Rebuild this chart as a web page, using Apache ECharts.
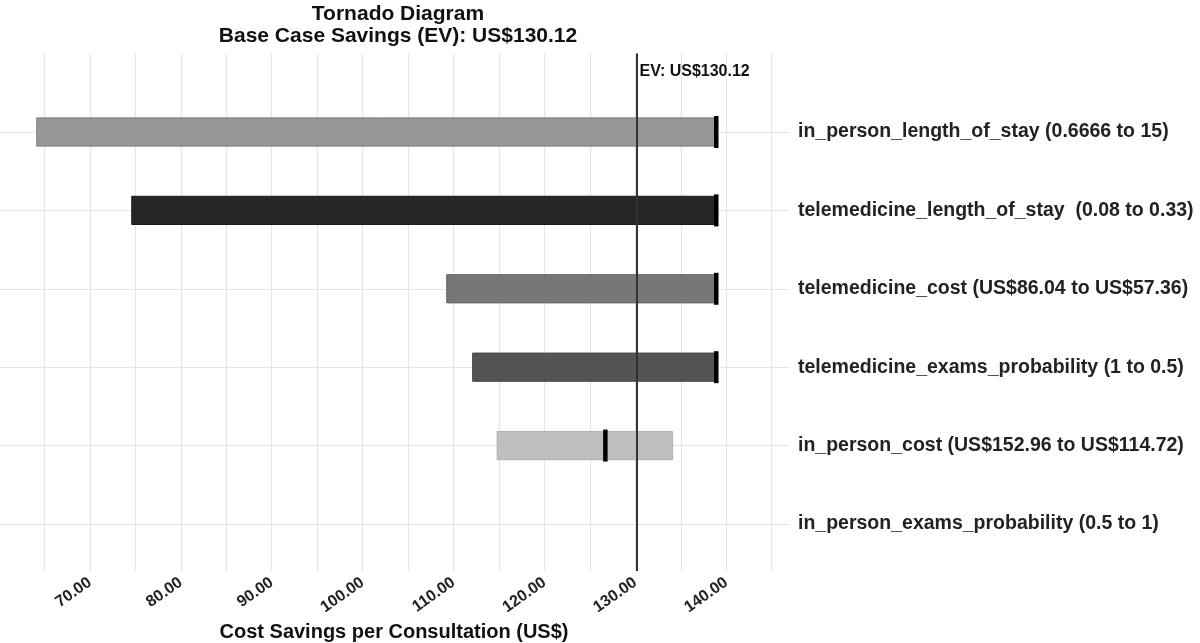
<!DOCTYPE html>
<html>
<head>
<meta charset="utf-8">
<title>Tornado Diagram</title>
<script src="https://cdn.jsdelivr.net/npm/echarts@6/dist/echarts.min.js"></script>
<style>
  html, body { margin: 0; padding: 0; background: #fff; }
  #chart { width: 1200px; height: 643px; }
</style>
</head>
<body>
<div id="chart"></div>
<script>
// rows from top to bottom
const categories = [
  'in_person_length_of_stay (0.6666 to 15)',
  'telemedicine_length_of_stay  (0.08 to 0.33)',
  'telemedicine_cost (US$86.04 to US$57.36)',
  'telemedicine_exams_probability (1 to 0.5)',
  'in_person_cost (US$152.96 to US$114.72)',
  'in_person_exams_probability (0.5 to 1)'
];
const lowValues = [64.15, 74.6, 109.25, 112.1, 114.8, null];
const highValues = [138.9, 138.9, 138.9, 138.9, 134.1, null];
const markValues = [138.9, 138.9, 138.9, 138.9, 126.7, null];
const evValue = 130.12;
const xTickValues = [70, 80, 90, 100, 110, 120, 130, 140];

const barColors = ['#969696', '#262626', '#777777', '#545454', '#bebebe', '#bebebe'];
const barBorders = ['#7d7d7d', '#1a1a1a', '#666666', '#474747', '#b0b0b0', '#b0b0b0'];
const FONT = '"Liberation Sans", Arial, Helvetica, sans-serif';

const barData = [];
const markData = [];
categories.forEach((c, i) => {
  if (lowValues[i] != null) barData.push([lowValues[i], highValues[i], i]);
  if (markValues[i] != null) markData.push([markValues[i], i]);
});

const chart = echarts.init(document.getElementById('chart'));
chart.setOption({
  backgroundColor: '#ffffff',
  animation: false,
  textStyle: { fontFamily: FONT },
  title: {
    text: 'Tornado Diagram\nBase Case Savings (EV): US$' + evValue.toFixed(2),
    left: 393,
    top: -2,
    textAlign: 'center',
    textStyle: { fontFamily: FONT, fontSize: 21, fontWeight: 'bold', color: '#111', lineHeight: 22 }
  },
  grid: { left: -1, top: 53.6, width: 790, height: 517.4, containLabel: false, outerBoundsMode: 'none' },
  xAxis: {
    type: 'value',
    min: 60,
    max: 146.9,
    interval: 5,
    name: 'Cost Savings per Consultation (US$)',
    nameLocation: 'middle',
    nameGap: 51,
    nameTextStyle: { fontFamily: FONT, fontSize: 20, fontWeight: 'bold', color: '#111' },
    axisLine: { show: false },
    axisTick: { show: false },
    axisLabel: {
      rotate: 35,
      margin: 10,
      fontFamily: FONT,
      fontSize: 16,
      fontWeight: 'bold',
      color: '#222',
      formatter: v => xTickValues.includes(v) ? v.toFixed(2) : ''
    },
    splitLine: { show: true, showMinLine: false, showMaxLine: false, lineStyle: { color: '#e5e5e5', width: 1.2 } }
  },
  yAxis: {
    type: 'value',
    position: 'right',
    inverse: true,
    min: -1,
    max: 5.6,
    interval: 1,
    axisLine: { show: false },
    axisTick: { show: false },
    axisLabel: {
      margin: 9,
      fontFamily: FONT,
      fontSize: 19.5,
      fontWeight: 'bold',
      color: '#222',
      formatter: v => (Number.isInteger(v) && v >= 0 && v < categories.length) ? categories[v] : ''
    },
    splitLine: { show: true, showMinLine: false, showMaxLine: false, lineStyle: { color: '#e5e5e5', width: 1.2 } }
  },
  series: [
    {
      type: 'custom',
      name: 'range',
      data: barData,
      encode: { x: [0, 1], y: 2 },
      renderItem: (params, api) => {
        const row = api.value(2);
        const p0 = api.coord([api.value(0), row]);
        const p1 = api.coord([api.value(1), row]);
        const h = api.size([0, 1])[1] * 0.36;
        return {
          type: 'rect',
          shape: { x: p0[0], y: p0[1] - h / 2, width: p1[0] - p0[0], height: h },
          style: { fill: barColors[row], stroke: barBorders[row], lineWidth: 1 }
        };
      },
      z: 2
    },
    {
      type: 'scatter',
      name: 'mark',
      data: markData,
      symbol: 'rect',
      symbolSize: [4.5, 32],
      itemStyle: { color: '#000', opacity: 1 },
      z: 4,
      markLine: {
        silent: true,
        symbol: 'none',
        label: { show: false },
        lineStyle: { color: '#333', width: 2, type: 'solid', opacity: 1 },
        data: [{ xAxis: evValue }]
      }
    },
    {
      type: 'scatter',
      name: 'evLabel',
      data: [[evValue, -0.77]],
      symbolSize: 0,
      itemStyle: { opacity: 1 },
      z: 5,
      label: {
        show: true,
        position: 'right',
        distance: 3,
        formatter: 'EV: US$' + evValue.toFixed(2),
        fontFamily: FONT,
        fontSize: 16,
        fontWeight: 'bold',
        color: '#111'
      }
    }
  ]
});
</script>
</body>
</html>
